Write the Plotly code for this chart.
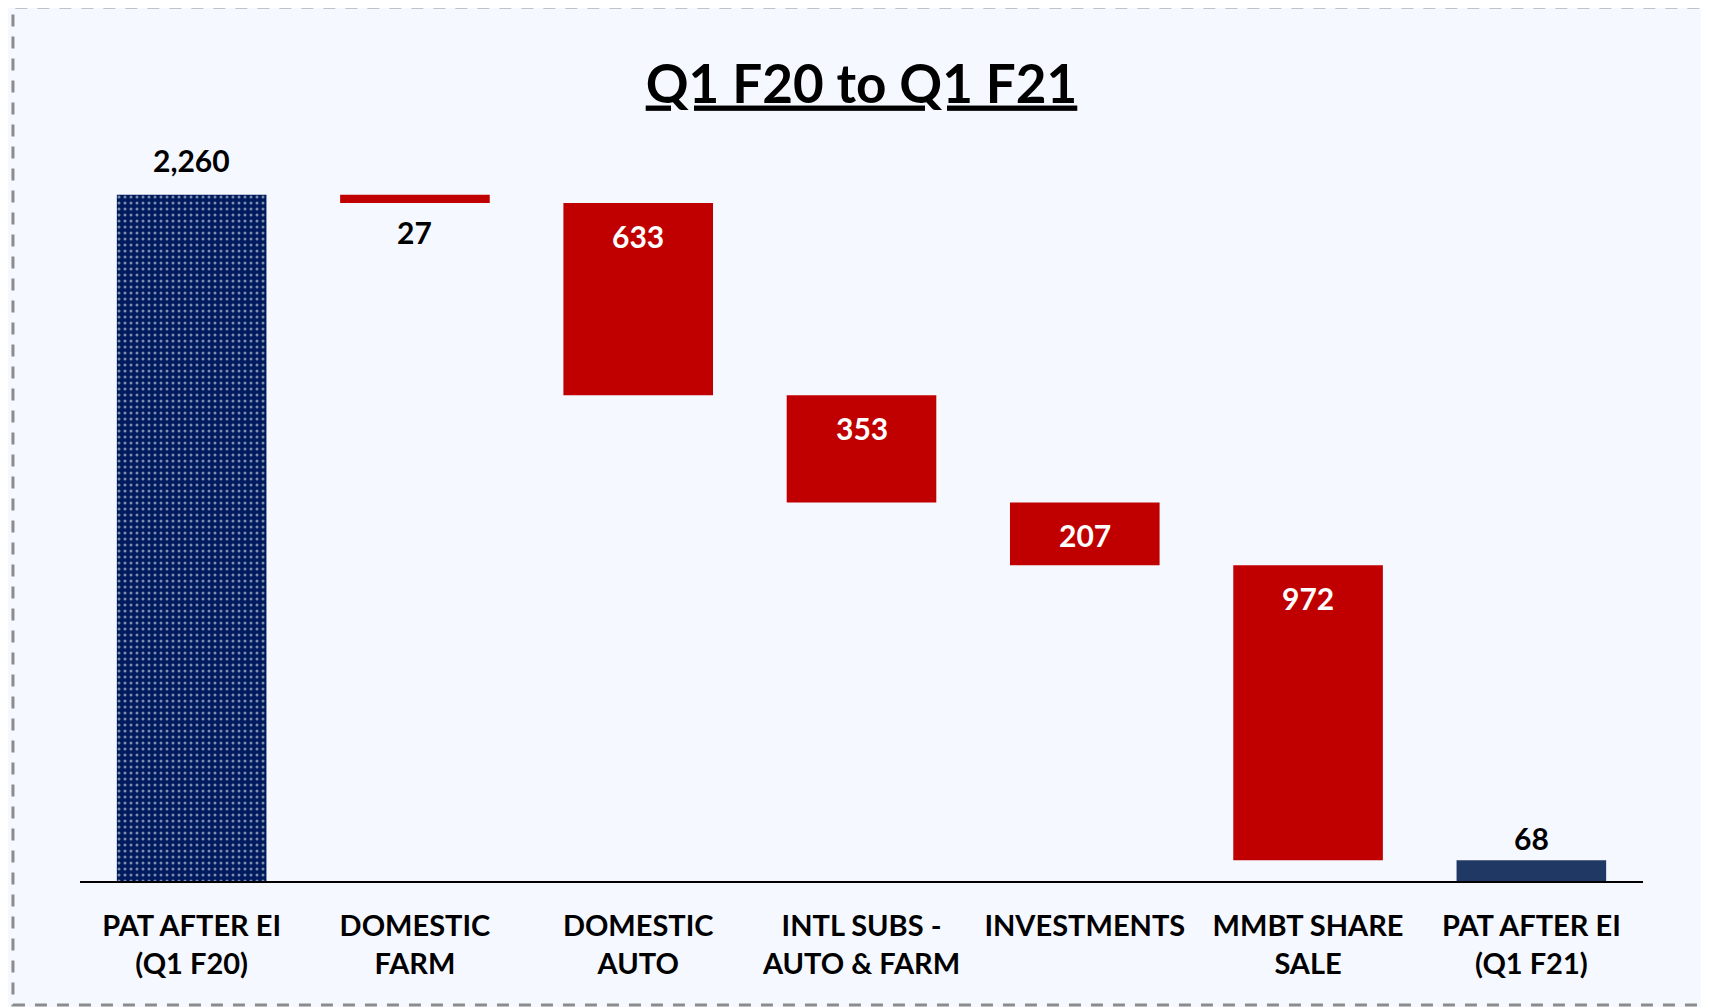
import plotly.graph_objects as go

# ---- data ----
categories = ["PAT AFTER EI<br>(Q1 F20)", "DOMESTIC<br>FARM", "DOMESTIC<br>AUTO",
              "INTL SUBS -<br>AUTO & FARM", "INVESTMENTS", "MMBT SHARE<br>SALE",
              "PAT AFTER EI<br>(Q1 F21)"]
start_value = 2260
changes = [-27, -633, -353, -207, -972]
value_labels = ["2,260", "27", "633", "353", "207", "972", "68"]
title_text = "Q1 F20 to Q1 F21"

# derived
bases = []
running = start_value
for c in changes:
    bases.append(running)
    running += c
end_value = running

FONT = "Lato"
NAVY = "#001A5E"
RED = "#C00000"
DARK = "#1F3864"
BG = "#F5F8FF"

fig = go.Figure()
fig.add_trace(go.Bar(
    x=[categories[0]], y=[start_value], width=0.67,
    marker=dict(color=NAVY, line=dict(width=0),
                pattern=dict(shape=".", fgcolor="white", size=6, solidity=0.2)),
    hoverinfo="skip"))
fig.add_trace(go.Bar(
    x=categories[1:6], y=changes, base=bases, width=0.67,
    marker=dict(color=RED, line=dict(width=0)), hoverinfo="skip"))
fig.add_trace(go.Bar(
    x=[categories[6]], y=[end_value], width=0.67,
    marker=dict(color=DARK, line=dict(width=0)), hoverinfo="skip"))

ann = []
VSIZE = 30
lab_font = dict(family=FONT, size=VSIZE, color="black")
ann.append(dict(x=categories[0], y=start_value, text="<b>%s</b>" % value_labels[0],
                showarrow=False, yanchor="middle", yshift=35, font=lab_font))
for i, (b, c) in enumerate(zip(bases, changes)):
    bottom = b + c
    if abs(c) < 100:
        ann.append(dict(x=categories[i + 1], y=bottom, text="<b>%s</b>" % value_labels[i + 1],
                        showarrow=False, yanchor="middle", yshift=-29, font=lab_font))
    else:
        ann.append(dict(x=categories[i + 1], y=b, text="<b>%s</b>" % value_labels[i + 1],
                        showarrow=False, yanchor="middle", yshift=-33,
                        font=dict(family=FONT, size=VSIZE, color="white")))
ann.append(dict(x=categories[6], y=end_value, text="<b>%s</b>" % value_labels[6],
                showarrow=False, yanchor="middle", yshift=22, font=lab_font))

fig.update_layout(
    width=1709, height=1007,
    margin=dict(l=72, r=74, t=114, b=134),
    paper_bgcolor=BG, plot_bgcolor=BG,
    showlegend=False, barmode="overlay",
    title=dict(text="<b><u>%s</u></b>" % title_text, x=0.5, xref="paper",
               y=1 - 76 / 1007, yref="container", yanchor="middle",
               font=dict(family=FONT, size=53, color="black")),
    xaxis=dict(showline=True, linecolor="black", linewidth=2, ticks="",
               showgrid=False, zeroline=False, ticklabelstandoff=18,
               tickfont=dict(family=FONT, size=29, color="black", weight="bold"),
               range=[-0.5, 6.5]),
    yaxis=dict(visible=False, range=[0, 2500], showgrid=False, zeroline=False),
    annotations=ann,
    shapes=[dict(type="rect", xref="paper", yref="paper",
                 x0=-0.0429, x1=1.05, y0=-0.1634, y1=1.1515,
                 line=dict(color="#8C8C8C", width=3, dash="12px,10px"),
                 fillcolor="rgba(0,0,0,0)", layer="above")],
)

fig.write_html("out.html")
